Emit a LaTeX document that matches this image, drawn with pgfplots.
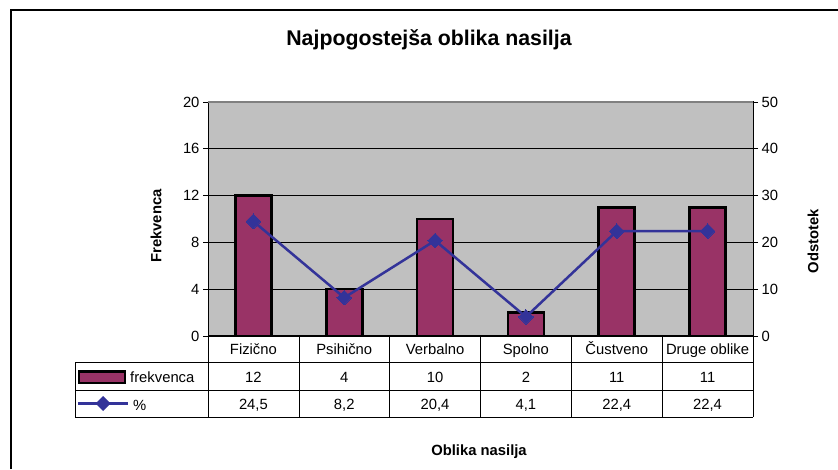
\documentclass[border=0pt]{standalone}
\usepackage{fontspec}
\setmainfont{Liberation Sans}
\usepackage{pgfplots}
\pgfplotsset{compat=1.18}

\definecolor{plum}{RGB}{153,51,102}
\definecolor{navy}{RGB}{51,51,153}
\definecolor{plotgray}{RGB}{192,192,192}
\newcommand\fs{\fontsize{14.8}{17}\selectfont}

\begin{document}
\begin{tikzpicture}
\useasboundingbox (0,0) rectangle (838pt,469pt);

% left axis: frekvenca (bars)
\begin{axis}[
  at={(208pt,133pt)}, anchor=south west, scale only axis,
  width=545pt, height=234pt,
  xmin=-0.5, xmax=5.5, xtick=\empty,
  ymin=0, ymax=20, ytick={0,4,...,20}, ytick pos=left,
  tick align=outside, major tick length=5pt,
  tick style={black, line width=0.9pt},
  ymajorgrids, grid style={black, line width=0.8pt},
  axis background/.style={fill=plotgray},
  axis line style={black, line width=1pt},
  ticklabel style={font=\fs},
  /pgf/number format/assume math mode=true,
  clip=false]
\addplot[ybar, bar width=36pt, fill=plum, draw=black, line width=2.6pt]
  coordinates {(0,12) (1,4) (2,10) (3,2) (4,11) (5,11)};
\end{axis}

% right axis: odstotek (line)
\begin{axis}[
  at={(208pt,133pt)}, anchor=south west, scale only axis,
  width=545pt, height=234pt,
  xmin=-0.5, xmax=5.5, axis x line=none,
  ymin=0, ymax=50, ytick={0,10,...,50},
  axis y line*=right,
  tick align=outside, major tick length=5pt,
  tick style={black, line width=0.9pt},
  axis line style={black, line width=1pt, -},
  ticklabel style={font=\fs},
  /pgf/number format/assume math mode=true]
\addplot[color=navy, line width=2.5pt, mark=square*, mark size=5.2pt,
  mark options={rotate=45, line width=0pt}]
  coordinates {(0,24.5) (1,8.2) (2,20.4) (3,4.1) (4,22.4) (5,22.4)};
\end{axis}

\begin{scope}[x=1pt, y=-1pt, yshift=469pt]
  % outer frame (cut at right and bottom)
  \draw[black, line width=1.2pt] (11,469) -- (11,10) -- (838,10);
  % plot area top border
  \draw[gray, line width=1.2pt] (208,102) -- (753,102);
  % titles
  \node[font=\fontsize{21.3}{25}\selectfont\bfseries] at (429,40) {Najpogostejša oblika nasilja};
  \node[font=\fs\bfseries, rotate=90] at (156,226) {Frekvenca};
  \node[font=\fs\bfseries, rotate=90] at (813,241) {Odstotek};
  \node[font=\fs\bfseries] at (479,452) {Oblika nasilja};
  % data table grid
  \draw[black, line width=0.9pt]
    (75,362) -- (753,362) (75,390) -- (753,390) (75,417) -- (753,417)
    (75,362) -- (75,417);
  \foreach \xx in {208,299,389.7,480.5,571.3,662.2,753}
    \draw[black, line width=0.9pt] (\xx,336) -- (\xx,417);
  % table legend keys
  \draw[fill=plum, draw=black, line width=2.4pt] (79,371.5) rectangle (125,383);
  \node[font=\fs, anchor=base west, inner sep=0pt] at (130,382) {frekvenca};
  \draw[navy, line width=2.2pt] (78,403.5) -- (128,403.5);
  \fill[navy] (103,396) -- (110.5,403.5) -- (103,411) -- (95.5,403.5) -- cycle;
  \node[font=\fs, anchor=base west, inner sep=0pt] at (133,410) {\%};
  % table cells
  \foreach \i/\c/\f/\p in {0/Fizično/12/24{,}5, 1/Psihično/4/8{,}2,
      2/Verbalno/10/20{,}4, 3/Spolno/2/4{,}1, 4/Čustveno/11/22{,}4,
      5/Druge oblike/11/22{,}4} {
    \pgfmathsetmacro\cx{208+90.83*(\i+0.5)}
    \node[font=\fs, anchor=base, inner sep=0pt] at (\cx,354.5) {\c};
    \node[font=\fs, anchor=base, inner sep=0pt] at (\cx,382) {\f};
    \node[font=\fs, anchor=base, inner sep=0pt] at (\cx,409.5) {\p};
  }
\end{scope}
\end{tikzpicture}
\end{document}
